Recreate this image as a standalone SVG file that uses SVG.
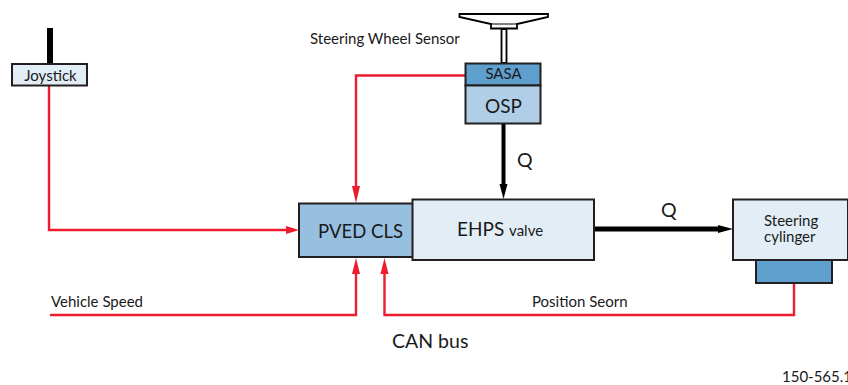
<svg xmlns="http://www.w3.org/2000/svg" width="848" height="385" viewBox="0 0 848 385">
<style>
text{font-family:Lato,"Open Sans",sans-serif;fill:#1a1a1a}
.b{stroke:#231f20;stroke-width:2}
.r{fill:none;stroke:#ed1c2e;stroke-width:2.4}
.k{fill:none;stroke:#000}
.t13{font-size:15px}
.t19{font-size:19px}
.t20{font-size:19.500px}
</style>
<g id="connectors">
<path class="r" d="M49 85V230H288"/>
<path d="M286 226L299 230L286 234Z" fill="#ed1c2e"/>
<path class="r" d="M465 75.500H356V188"/>
<path d="M352 186L356 203L360 186Z" fill="#ed1c2e"/>
<path class="r" d="M50 315H356V270"/>
<path d="M352 274L356 258L360 274Z" fill="#ed1c2e"/>
<path class="r" d="M794 283V315H384.500V270"/>
<path d="M380.500 274L384.500 258L388.500 274Z" fill="#ed1c2e"/>
<path class="k" stroke-width="6" d="M50 28V64"/>
<path class="k" stroke-width="4" d="M503.500 124V186"/>
<path d="M499.500 184L503.500 199L507.500 184Z" fill="#000"/>
<path class="k" stroke-width="5" d="M595 229H720"/>
<path d="M718 225L733 229L718 233Z" fill="#000"/>
<path d="M501.500 29H506.500V63H501.500Z" fill="#fff" stroke="#000" stroke-width="1.800"/>
</g>
<g id="steering-wheel"><path d="M459.500 14H548V17L517 24V28.500H491V24L459.500 17Z" fill="#fff" stroke="#000" stroke-width="1.800"/><path d="M491 24H517" stroke="#000" fill="none"/></g>
<g id="joystick"><rect class="b" x="12" y="64" width="75" height="21.500" fill="#e2edf6"/><text class="t13" x="50.500" y="80.500" text-anchor="middle">Joystick</text></g>
<g id="sasa"><rect class="b" x="465.500" y="63.500" width="75" height="22" fill="#5f9fce"/><text class="t13" x="503.500" y="79" text-anchor="middle">SASA</text></g>
<g id="osp"><rect class="b" x="465.500" y="85.500" width="75" height="38" fill="#b0cfe7"/><text class="t19" x="503.500" y="112.500" text-anchor="middle">OSP</text></g>
<g id="pved-cls"><rect class="b" x="299" y="203.500" width="114" height="53.500" fill="#97bfe0"/><text class="t19" x="360.500" y="238" text-anchor="middle" textLength="85" lengthAdjust="spacingAndGlyphs">PVED CLS</text></g>
<g id="ehps-valve"><rect class="b" x="412.500" y="199.500" width="181.500" height="60.500" fill="#e2edf6"/><text x="457" y="236" class="t19">EHPS <tspan class="t13">valve</tspan></text></g>
<g id="steering-cylinder"><rect class="b" x="733" y="199.500" width="115" height="60.500" fill="#e2edf6"/><text class="t13" x="764" y="226">Steering</text><text class="t13" x="764" y="242">cylinger</text></g>
<g id="sensor"><rect class="b" x="756" y="260" width="76" height="23" fill="#5f9fce"/></g>
<g id="labels">
<text class="t13" x="310" y="43.500">Steering Wheel Sensor</text>
<text class="t20" x="517" y="167">Q</text>
<text class="t20" x="661" y="217">Q</text>
<text class="t13" x="51" y="306.500">Vehicle Speed</text>
<text class="t13" x="532" y="306.500">Position Seorn</text>
<text class="t20" x="392" y="347.500">CAN bus</text>
<text class="t13" x="782" y="381.500">150-565.11</text>
</g>
</svg>
